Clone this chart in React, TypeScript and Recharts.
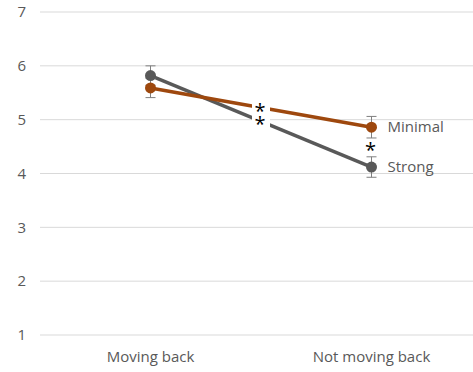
import React from 'react';
import {
  LineChart,
  Line,
  XAxis,
  YAxis,
  CartesianGrid,
  ErrorBar,
  LabelList,
  ReferenceDot,
} from 'recharts';

// Conditions on the x axis
const categories = ['Moving back', 'Not moving back'];

// Mean ratings per condition
const minimal = [5.59, 4.86];
const minimalErr = [0.18, 0.2];
const strong = [5.82, 4.12];
const strongErr = [0.18, 0.19];

const yTicks = [1, 2, 3, 4, 5, 6, 7];

const MINIMAL_COLOR = '#9e480e';
const STRONG_COLOR = '#595959';
const TEXT_COLOR = '#595959';
const FONT = "'Open Sans', sans-serif";

const data = categories.map((name, i) => ({
  x: i,
  name,
  minimal: minimal[i],
  minimalErr: minimalErr[i],
  strong: strong[i],
  strongErr: strongErr[i],
}));

// Significance markers: on each line between the two conditions,
// and between the two series at the second condition
const sigMarks = [
  { x: 0.5, y: (minimal[0] + minimal[1]) / 2, box: true },
  { x: 0.5, y: (strong[0] + strong[1]) / 2, box: true },
  { x: 1, y: (minimal[1] + strong[1]) / 2, box: false },
];

const Asterisk = (props: any) => {
  const { cx, cy, box } = props;
  return (
    <g>
      {box && <rect x={cx - 9} y={cy - 7} width={18} height={14} fill="#ffffff" />}
      <text
        x={cx - 1}
        y={cy + 10}
        textAnchor="middle"
        fontFamily={FONT}
        fontSize={20}
        fill="#000000"
      >
        *
      </text>
    </g>
  );
};

const seriesLabel = (name: string) => (props: any) => {
  const { x, y, index } = props;
  if (index !== 1) return null;
  return (
    <text x={x + 16} y={y + 5} fontFamily={FONT} fontSize={15} fill={TEXT_COLOR}>
      {name}
    </text>
  );
};

export default function App() {
  return (
    <div
      style={{
        position: 'absolute',
        left: 0,
        top: 0,
        width: 473,
        height: 372,
        overflow: 'hidden',
        background: '#ffffff',
      }}
    >
      <LineChart
        width={482}
        height={372}
        data={data}
        margin={{ top: 12, right: 0, bottom: 7, left: 0 }}
      >
        <CartesianGrid vertical={false} stroke="#d9d9d9" strokeWidth={1} />
        <XAxis
          dataKey="x"
          type="number"
          domain={[-0.5, 1.5]}
          ticks={[0, 1]}
          tickFormatter={(v: number) => categories[v]}
          axisLine={false}
          tickLine={false}
          tickMargin={10}
          height={30}
          tick={{ fill: TEXT_COLOR, fontSize: 15, fontFamily: FONT }}
        />
        <YAxis
          domain={[1, 7]}
          ticks={yTicks}
          axisLine={false}
          tickLine={false}
          tickMargin={8}
          width={40}
          tick={{ fill: TEXT_COLOR, fontSize: 15, fontFamily: FONT }}
        />
        <Line
          dataKey="strong"
          stroke={STRONG_COLOR}
          strokeWidth={3.5}
          dot={{ r: 5.5, fill: STRONG_COLOR, stroke: STRONG_COLOR, strokeWidth: 0 }}
          activeDot={false}
          isAnimationActive={false}
        >
          <ErrorBar dataKey="strongErr" direction="y" width={5} stroke="#7f7f7f" strokeWidth={1} />
          <LabelList dataKey="strong" content={seriesLabel('Strong')} />
        </Line>
        <Line
          dataKey="minimal"
          stroke={MINIMAL_COLOR}
          strokeWidth={3.5}
          dot={{ r: 5.5, fill: MINIMAL_COLOR, stroke: MINIMAL_COLOR, strokeWidth: 0 }}
          activeDot={false}
          isAnimationActive={false}
        >
          <ErrorBar dataKey="minimalErr" direction="y" width={5} stroke="#7f7f7f" strokeWidth={1} />
          <LabelList dataKey="minimal" content={seriesLabel('Minimal')} />
        </Line>
        {sigMarks.map((m, i) => (
          <ReferenceDot
            key={i}
            x={m.x}
            y={m.y}
            r={5}
            ifOverflow="visible"
            shape={(p: any) => <Asterisk {...p} box={m.box} />}
          />
        ))}
      </LineChart>
    </div>
  );
}
